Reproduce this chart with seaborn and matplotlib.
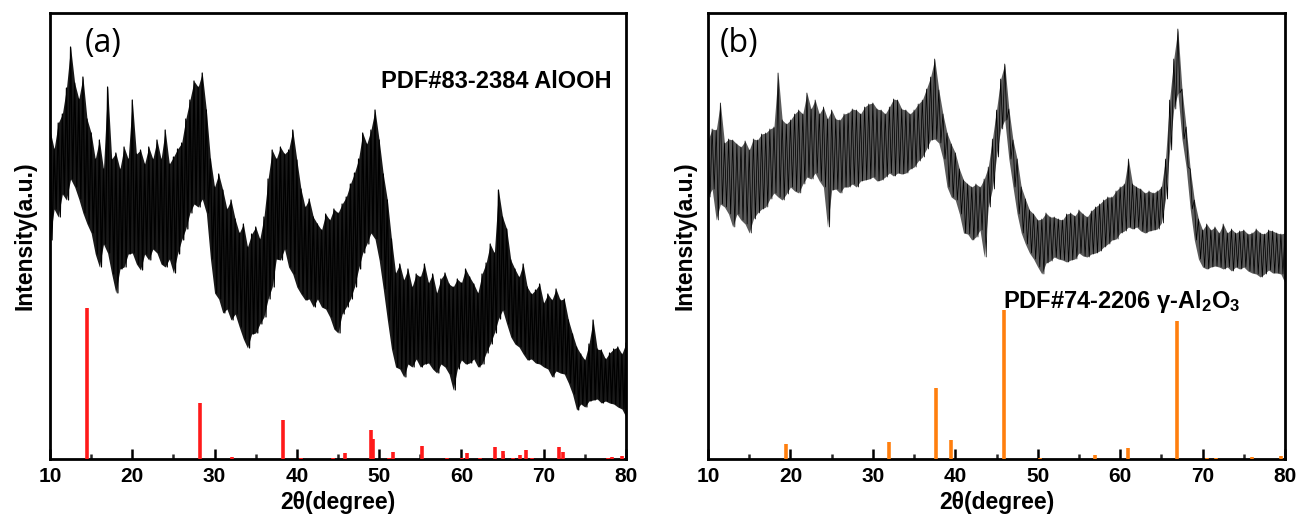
import numpy as np
import pandas as pd
import matplotlib
matplotlib.use("Agg")
import matplotlib.pyplot as plt
import seaborn as sns
from matplotlib.ticker import MultipleLocator

# ---------------- data ----------------
# sampling grid of the read-off values (degrees 2theta)
angle_grid = np.arange(10.0, 80.001, 0.5)

# panel (a): AlOOH sample, upper / lower edge of the noisy trace (a.u.)
a_upper = [
    329, 310, 336, 345, 371, 412, 376, 360, 382, 340,
    326, 300, 319, 290, 372, 300, 306, 290, 312, 300,
    359, 305, 309, 295, 312, 300, 319, 300, 329, 295,
    302, 310, 316, 340, 359, 378, 372, 386, 349, 300,
    272, 285, 269, 250, 259, 240, 226, 235, 212, 225,
    232, 220, 242, 280, 309, 300, 312, 305, 309, 329,
    299, 270, 252, 260, 242, 235, 229, 245, 239, 250,
    246, 255, 262, 275, 286, 300, 326, 315, 329, 349,
    319, 285, 259, 220, 186, 195, 179, 190, 172, 185,
    182, 195, 176, 185, 166, 180, 186, 175, 172, 180,
    176, 190, 182, 175, 166, 185, 196, 215, 206, 269,
    242, 230, 199, 190, 182, 195, 172, 165, 169, 175,
    156, 165, 159, 170, 159, 160, 139, 125, 112, 105,
    99, 115, 139, 110, 109, 100, 106, 110, 112, 105,
    116,
]
a_lower = [
    219, 250, 242, 265, 259, 280, 272, 260, 246, 235,
    226, 205, 192, 215, 206, 185, 166, 190, 192, 205,
    206, 195, 189, 205, 199, 210, 206, 195, 192, 200,
    186, 205, 219, 230, 246, 255, 252, 260, 246, 200,
    166, 160, 146, 150, 139, 145, 132, 120, 111, 125,
    126, 135, 142, 160, 172, 200, 199, 210, 192, 185,
    172, 165, 159, 160, 152, 160, 152, 150, 142, 130,
    126, 145, 152, 160, 172, 190, 206, 215, 226, 220,
    199, 170, 139, 110, 92, 90, 82, 95, 92, 100,
    92, 95, 96, 90, 86, 95, 92, 85, 69, 90,
    99, 95, 96, 100, 92, 95, 106, 115, 126, 140,
    149, 135, 122, 115, 112, 105, 99, 100, 96, 95,
    92, 90, 82, 88, 86, 85, 76, 65, 49, 55,
    52, 58, 59, 60, 56, 58, 56, 55, 52, 50,
    42,
]

# panel (b): gamma-Al2O3 sample
b_upper = [
    319, 330, 329, 356, 316, 320, 319, 315, 312, 318,
    309, 320, 319, 325, 326, 330, 332, 386, 339, 335,
    339, 345, 349, 345, 366, 350, 359, 345, 352, 340,
    349, 340, 339, 345, 346, 350, 349, 345, 352, 355,
    356, 350, 349, 345, 352, 360, 359, 350, 349, 345,
    349, 355, 359, 370, 382, 400, 369, 345, 326, 315,
    306, 290, 279, 275, 272, 275, 272, 280, 292, 320,
    349, 380, 395, 350, 319, 300, 272, 260, 249, 245,
    239, 240, 246, 242, 242, 240, 239, 245, 246, 243,
    249, 245, 242, 248, 252, 255, 259, 262, 262, 268,
    272, 275, 300, 275, 272, 270, 266, 268, 266, 268,
    272, 300, 359, 400, 430, 370, 332, 290, 259, 240,
    229, 235, 229, 232, 226, 235, 226, 230, 226, 228,
    229, 225, 226, 230, 226, 225, 229, 228, 226, 225,
    226,
]
b_lower = [
    262, 270, 239, 255, 252, 245, 232, 245, 239, 235,
    226, 240, 246, 250, 252, 260, 266, 262, 259, 265,
    272, 268, 266, 275, 282, 280, 286, 278, 272, 232,
    269, 270, 266, 272, 272, 275, 272, 278, 279, 280,
    282, 278, 279, 282, 286, 283, 286, 285, 286, 290,
    292, 298, 302, 310, 319, 320, 316, 300, 272, 262,
    259, 245, 226, 225, 219, 222, 229, 202, 252, 270,
    302, 330, 339, 300, 272, 245, 226, 215, 206, 200,
    192, 185, 196, 198, 202, 200, 199, 197, 199, 200,
    206, 203, 202, 205, 206, 208, 212, 215, 219, 220,
    226, 228, 232, 230, 232, 228, 226, 228, 229, 230,
    236, 260, 309, 350, 366, 320, 292, 250, 219, 200,
    192, 190, 192, 193, 192, 190, 192, 188, 192, 190,
    192, 188, 186, 185, 182, 185, 189, 186, 186, 185,
    176,
]

# reference patterns (stick positions and heights)
ref_a_pos = [14.5, 28.2, 32.1, 38.35, 40.5, 44.4, 45.8, 48.95, 49.25, 51.2,
             51.7, 55.25, 58.3, 60.1, 60.65, 62.3, 64.1, 65.0, 66.3, 67.1,
             67.8, 68.6, 71.9, 72.3, 77.8, 78.3, 79.5]
ref_a_int = [151, 56, 2, 39, 1.5, 1.5, 6, 29, 20, 1.5,
             7, 13, 1.5, 1.5, 6, 1.5, 12, 8, 1.5, 4,
             9, 1.5, 12, 7, 1.5, 2, 3]
ref_b_pos = [19.45, 31.95, 37.6, 39.5, 45.85, 50.3, 57.0, 60.9, 66.9, 70.5,
             71.6, 76.0, 79.5]
ref_b_int = [15, 17, 71, 19, 149, 1.5, 4, 11, 138, 1.5,
             1.5, 2, 3]

x_ticks = [10, 20, 30, 40, 50, 60, 70, 80]
panel_labels = ["(a)", "(b)"]
ref_labels = ["PDF#83-2384 AlOOH", r"PDF#74-2206 γ-Al$_2$O$_3$"]
x_title = "2θ(degree)"
y_title = "Intensity(a.u.)"

# ---------------- styling ----------------
sns.set_theme(style="white")
plt.rcParams["font.family"] = ["Liberation Sans", "DejaVu Sans"]
plt.rcParams["mathtext.default"] = "regular"
plt.rcParams["axes.linewidth"] = 2.0

W, H = 1297, 516
fig = plt.figure(figsize=(W / 100, H / 100), dpi=100)
ax_a = fig.add_axes([50 / W, 1 - 459 / H, (626 - 50) / W, (459 - 13) / H])
ax_b = fig.add_axes([708 / W, 1 - 459 / H, (1285 - 708) / W, (459 - 13) / H])


def trace_frame(upper, lower):
    xs, ys = [], []
    for t, hi, lo in zip(angle_grid, upper, lower):
        xs += [t, t + 0.25]
        ys += [hi, lo]
    return pd.DataFrame({"two_theta": xs, "intensity": ys})


panels = [
    (ax_a, a_upper, a_lower, ref_a_pos, ref_a_int, "#ff1a1a", 0.9, "black", 0.9, 0),
    (ax_b, b_upper, b_lower, ref_b_pos, ref_b_int, "#ff7f0e", 0.55, "#151515", 0.7, 1),
]

for ax, up, lo, rpos, rint, rcol, lw, fcol, falpha, k in panels:
    df = trace_frame(up, lo)
    ax.fill_between(angle_grid, lo, up, color=fcol, alpha=falpha, linewidth=0)
    sns.lineplot(data=df, x="two_theta", y="intensity", ax=ax, color="black",
                 linewidth=lw, estimator=None, sort=False)
    ax.vlines(rpos, 0, rint, colors=rcol, linewidth=2.6, zorder=3)
    ax.set_xlim(10, 80)
    ax.set_ylim(0, 446)
    ax.set_xticks(x_ticks)
    ax.xaxis.set_minor_locator(MultipleLocator(5))
    ax.set_yticks([])
    ax.tick_params(axis="x", which="major", direction="in", length=7, width=1.8,
                   bottom=True, top=False, pad=6, labelsize=15, colors="black")
    ax.tick_params(axis="x", which="minor", direction="in", length=3.5, width=1.8,
                   bottom=True, top=False)
    for lab in ax.get_xticklabels():
        lab.set_fontweight("bold")
    for sp in ax.spines.values():
        sp.set_visible(True)
        sp.set_color("black")
        sp.set_linewidth(2.0)
    ax.set_xlabel(x_title, fontsize=16.5, fontweight="bold", labelpad=3, color="black")
    ax.set_ylabel(y_title, fontsize=16.5, fontweight="bold",
                  labelpad=(10 if k == 0 else 8), color="black")
    ax.grid(False)

ax_a.text(14.25, 407, panel_labels[0], fontsize=23, family=["Open Sans", "DejaVu Sans"],
          ha="left", va="baseline", color="black")
ax_b.text(11.45, 407, panel_labels[1], fontsize=23, family=["Open Sans", "DejaVu Sans"],
          ha="left", va="baseline", color="black")
ax_a.text(78.3, 371, ref_labels[0], fontsize=17, fontweight="bold",
          ha="right", va="baseline", color="black")
ax_b.text(45.8, 151, ref_labels[1], fontsize=17, fontweight="bold",
          ha="left", va="baseline", color="black")

fig.savefig("out.png", dpi=100)
